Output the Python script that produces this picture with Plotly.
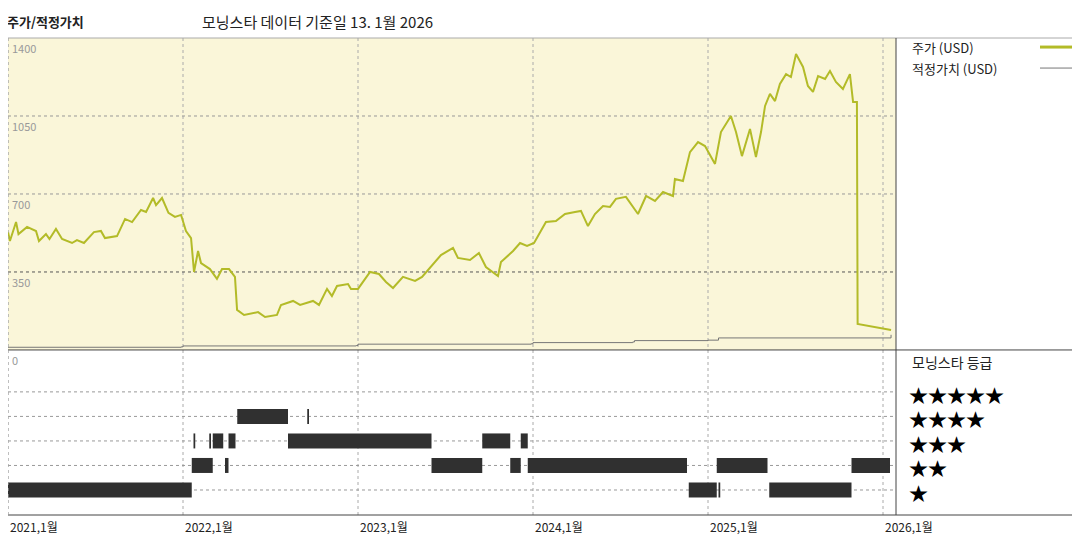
import plotly.graph_objects as go
import pandas as pd

# %% DATA (dates as decimal years)
price_t = [2021.000, 2021.011, 2021.046, 2021.060, 2021.109, 2021.160, 2021.177, 2021.217,
           2021.237, 2021.274, 2021.309, 2021.366, 2021.394, 2021.434, 2021.491, 2021.531,
           2021.554, 2021.623, 2021.669, 2021.709, 2021.760, 2021.789, 2021.829, 2021.846,
           2021.880, 2021.917, 2021.954, 2021.989, 2022.017, 2022.046, 2022.063, 2022.086,
           2022.103, 2022.154, 2022.194, 2022.223, 2022.263, 2022.297, 2022.309, 2022.349,
           2022.429, 2022.469, 2022.537, 2022.560, 2022.629, 2022.669, 2022.743, 2022.777,
           2022.823, 2022.851, 2022.880, 2022.943, 2022.960, 2023.000, 2023.069, 2023.120,
           2023.160, 2023.200, 2023.257, 2023.326, 2023.366, 2023.434, 2023.474, 2023.543,
           2023.571, 2023.640, 2023.691, 2023.731, 2023.800, 2023.817, 2023.886, 2023.926,
           2023.966, 2024.006, 2024.074, 2024.131, 2024.183, 2024.240, 2024.274, 2024.314,
           2024.354, 2024.400, 2024.440, 2024.474, 2024.531, 2024.600, 2024.646, 2024.697,
           2024.743, 2024.800, 2024.811, 2024.857, 2024.897, 2024.943, 2024.983, 2025.040,
           2025.074, 2025.131, 2025.160, 2025.194, 2025.240, 2025.274, 2025.303, 2025.326,
           2025.354, 2025.383, 2025.411, 2025.446, 2025.474, 2025.503, 2025.543, 2025.571,
           2025.600, 2025.629, 2025.669, 2025.697, 2025.731, 2025.771, 2025.811, 2025.829,
           2025.851, 2025.855, 2025.943, 2026.046]
price_v = [529, 489, 574, 520, 552, 534, 489, 520, 498, 543, 498, 480, 493, 480, 529, 534,
           502, 511, 588, 574, 628, 619, 682, 650, 682, 615, 597, 606, 534, 502, 350, 444,
           390, 363, 319, 363, 363, 328, 180, 157, 170, 148, 157, 202, 220, 202, 220, 202,
           274, 242, 287, 296, 274, 274, 350, 341, 305, 278, 328, 310, 328, 390, 426, 458,
           413, 404, 435, 372, 332, 395, 444, 480, 467, 480, 574, 579, 610, 619, 624, 556,
           610, 646, 642, 678, 687, 610, 691, 669, 709, 691, 767, 758, 888, 933, 915, 835,
           978, 1050, 978, 870, 992, 866, 978, 1095, 1149, 1117, 1194, 1238, 1225, 1328, 1270,
           1185, 1158, 1229, 1216, 1252, 1203, 1171, 1238, 1113, 1113, 117, 103, 90]

fair_t = [2021.00, 2021.99, 2022.00, 2022.99, 2023.00, 2023.99, 2024.00, 2024.57, 2024.58,
          2025.00, 2025.06, 2026.046]
fair_v = [12, 14, 18, 20, 26, 28, 33, 36, 42, 44, 54, 68]

# star-rating periods (rating, start, end)
rating_periods = [
    (4, 2022.31, 2022.60), (4, 2022.71, 2022.72),
    (3, 2022.06, 2022.07), (3, 2022.15, 2022.16), (3, 2022.17, 2022.23), (3, 2022.26, 2022.30),
    (3, 2022.60, 2023.42), (3, 2023.71, 2023.87), (3, 2023.93, 2023.97),
    (2, 2022.05, 2022.17), (2, 2022.24, 2022.26), (2, 2023.42, 2023.71), (2, 2023.87, 2023.93),
    (2, 2023.97, 2024.88), (2, 2025.05, 2025.34), (2, 2025.82, 2026.04),
    (1, 2021.00, 2022.05), (1, 2024.89, 2025.05), (1, 2025.06, 2025.07), (1, 2025.35, 2025.82),
]

year_ticks = [2021, 2022, 2023, 2024, 2025, 2026]
price_ticks = [0, 350, 700, 1050, 1400]
star_labels = ["★★★★★", "★★★★", "★★★", "★★", "★"]


def to_date(y):
    return pd.Timestamp("2021-01-01") + pd.to_timedelta((y - 2021) * 365.25, unit="D")


# %% FIGURE
FONT = "Noto Sans CJK KR"
X0, X1 = to_date(2021.0), to_date(2026.0743)
BOT = 0.346
PRICE_C = "#b3bb28"
W = 888.0  # plot width px
OFF = 8    # page margin of the browser


def px(x):
    return (x - OFF) / W


fig = go.Figure()
fig.add_trace(go.Scatter(x=[to_date(t) for t in price_t], y=price_v, mode="lines",
                         line=dict(color=PRICE_C, width=2), yaxis="y"))
fig.add_trace(go.Scatter(x=[to_date(t) for t in fair_t], y=fair_v, mode="lines",
                         line=dict(color="#777777", width=1, shape="hv"), yaxis="y"))
for r, a, b in rating_periods:
    fig.add_trace(go.Scatter(x=[to_date(a), to_date(b)], y=[r, r], mode="lines",
                             line=dict(color="#303030", width=15), yaxis="y2"))

fig.update_layout(
    width=1072, height=532, showlegend=False,
    margin=dict(l=0, r=184, t=30, b=25),
    plot_bgcolor="white", paper_bgcolor="white",
    font=dict(family=FONT, color="#222"),
    xaxis=dict(range=[X0, X1], showticklabels=False, showgrid=False, zeroline=False),
    yaxis=dict(domain=[BOT, 1], range=[0, 1400], showticklabels=False, showgrid=False,
               zeroline=False),
    yaxis2=dict(domain=[0, BOT], range=[-0.02, 6.71], showticklabels=False, showgrid=False,
                zeroline=False),
)

shapes = [dict(type="rect", xref="x domain", yref="y domain", x0=0, x1=1, y0=0, y1=1,
               fillcolor="#faf6d9", line=dict(width=0), layer="below")]
for y in year_ticks:
    shapes.append(dict(type="line", xref="x", yref="paper", x0=to_date(y), x1=to_date(y),
                       y0=0, y1=1, layer="below", line=dict(color="#aaa", width=1, dash="dot")))
for v in price_ticks[1:4]:
    shapes.append(dict(type="line", xref="x domain", yref="y", x0=0, x1=1, y0=v, y1=v,
                       layer="below",
                       line=dict(color="#999" if v != 350 else "#555", width=1, dash="dot")))
for k in range(1, 6):
    shapes.append(dict(type="line", xref="x domain", yref="y2", x0=0, x1=1, y0=k, y1=k,
                       layer="below", line=dict(color="#999", width=1, dash="dot")))
shapes += [
    dict(type="line", xref="paper", yref="paper", x0=0, x1=px(1080), y0=1, y1=1,
         line=dict(color="#aaa", width=1)),
    dict(type="line", xref="paper", yref="paper", x0=px(0), x1=px(1080), y0=BOT, y1=BOT,
         line=dict(color="#444", width=1)),
    dict(type="line", xref="paper", yref="paper", x0=px(0), x1=px(1080), y0=0, y1=0,
         line=dict(color="#444", width=1)),
    dict(type="line", xref="paper", yref="paper", x0=1, x1=1, y0=0, y1=1,
         line=dict(color="#444", width=1)),
    dict(type="line", xref="paper", yref="paper", x0=0, x1=0, y0=0, y1=1,
         line=dict(color="#aaa", width=1, dash="dot")),
    dict(type="line", xref="paper", yref="paper", x0=px(1040), x1=px(1072), y0=0.981, y1=0.981,
         line=dict(color=PRICE_C, width=3)),
    dict(type="line", xref="paper", yref="paper", x0=px(1040), x1=px(1072), y0=0.937, y1=0.937,
         line=dict(color="#777", width=1)),
]
fig.update_layout(shapes=shapes)

ann = [
    dict(text="<b>주가/적정가치</b>", x=px(5), y=1.035, xref="paper", yref="paper",
         xanchor="left", yanchor="middle", showarrow=False, font=dict(size=13)),
    dict(text="모닝스타 데이터 기준일 13. 1월 2026", x=px(200), y=1.035, xref="paper",
         yref="paper", xanchor="left", yanchor="middle", showarrow=False, font=dict(size=15)),
    dict(text="주가 (USD)", x=px(910), y=0.981, xref="paper", yref="paper", xanchor="left",
         yanchor="middle", showarrow=False, font=dict(size=13)),
    dict(text="적정가치 (USD)", x=px(910), y=0.937, xref="paper", yref="paper", xanchor="left",
         yanchor="middle", showarrow=False, font=dict(size=13)),
    dict(text="모닝스타 등급", x=px(910), y=BOT - 0.025, xref="paper", yref="paper",
         xanchor="left", yanchor="middle", showarrow=False, font=dict(size=14)),
]
for y in year_ticks:
    ann.append(dict(text=f"{y},1월", x=to_date(y), y=-0.003, xref="x", yref="paper",
                    xanchor="left", yanchor="top", showarrow=False, font=dict(size=12)))
for v in price_ticks:
    ann.append(dict(text=str(v), x=0.002, y=v, xref="paper", yref="y", xanchor="left",
                    yanchor="top", showarrow=False, font=dict(size=11, color="#999")))
for i, s in enumerate(star_labels):
    ann.append(dict(text=s, x=px(907), y=5 - i - 0.1, xref="paper", yref="y2", xanchor="left",
                    yanchor="middle", showarrow=False, font=dict(size=19, color="black")))
fig.update_layout(annotations=ann)

fig.write_html("out.html")
